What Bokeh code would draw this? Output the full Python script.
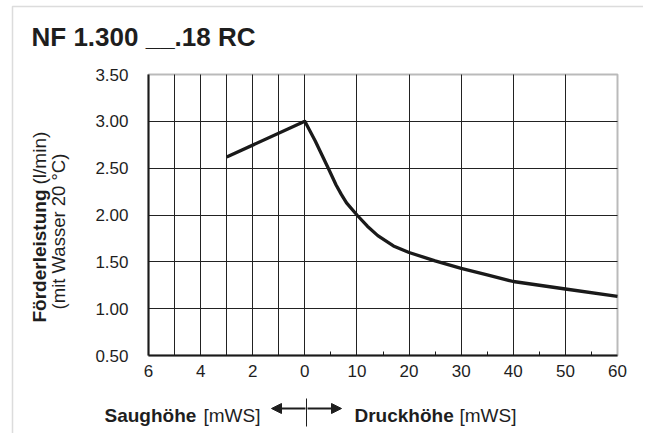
from bokeh.plotting import figure
from bokeh.models import (FixedTicker, Label, Arrow, NormalHead, BoxAnnotation, Range1d)
from bokeh.embed import file_html
from bokeh.resources import INLINE
import math

# ---------------- data ----------------
title_text = "NF 1.300 __.18 RC"
suction_head = [3, 0]            # Saughöhe [mWS]
suction_flow = [2.62, 3.00]      # l/min
pressure_head = [0, 2, 4.5, 6, 7, 8, 10, 12, 14, 17, 20, 25, 30, 35, 40, 50, 60]   # Druckhöhe [mWS]
pressure_flow = [3.00, 2.79, 2.50, 2.32, 2.22, 2.13, 2.00, 1.88, 1.78, 1.67, 1.60, 1.51, 1.43, 1.36, 1.29, 1.21, 1.13]
suction_ticks = [6, 4, 2, 0]
pressure_ticks = [10, 20, 30, 40, 50, 60]
y_ticks = [0.5, 1.0, 1.5, 2.0, 2.5, 3.0, 3.5]

# composite x axis: suction drawn to the left (1 mWS per unit), pressure to the right (5 mWS per unit)
def su(s):
    return -s

def pu(p):
    return p / 5.0

xs = [su(s) for s in suction_head] + [pu(p) for p in pressure_head[1:]]
ys = suction_flow + pressure_flow[1:]

W, H = 643, 433
FX0, FX1, FY0, FY1 = 148, 617, 74, 355   # chart box in canvas pixels
XMIN, XMAX, YMIN, YMAX = -6, 12, 0.5, 3.5
kx = (FX1 - FX0) / (XMAX - XMIN)
ky = (FY1 - FY0) / (YMAX - YMIN)

p = figure(width=W, height=H, output_backend="svg", toolbar_location=None, title=None,
           x_range=Range1d(XMIN - FX0 / kx, XMAX + (W - FX1) / kx),
           y_range=Range1d(YMIN - (H - FY1) / ky, YMAX + FY0 / ky),
           min_border=0, min_border_left=0, min_border_right=0,
           min_border_top=0, min_border_bottom=0)
p.background_fill_color = "white"
p.border_fill_color = "white"
p.outline_line_color = None

FONT = "Liberation Sans"
TXT = "#1e1e1e"
INK = "#1a1a1a"

# x axis (drawn along the bottom of the chart box)
xt = [su(s) for s in suction_ticks] + [pu(t) for t in pressure_ticks]
xl = [str(s) for s in suction_ticks] + [str(t) for t in pressure_ticks]
minor = [pu(t + 5) for t in [0] + pressure_ticks[:-1]]
xa = p.xaxis[0]
xa.fixed_location = YMIN
xa.bounds = (XMIN, XMAX)
xa.ticker = FixedTicker(ticks=xt, minor_ticks=minor)
xa.major_label_overrides = {t: l for t, l in zip(xt, xl)}
xa.major_tick_in = 0
xa.major_tick_out = 0
xa.minor_tick_in = 4
xa.minor_tick_out = 0
xa.minor_tick_line_color = INK
xa.axis_line_width = 2
xa.axis_line_color = INK
xa.major_label_standoff = 9
xa.major_label_text_font = FONT
xa.major_label_text_font_size = "17px"
xa.major_label_text_color = TXT

# y axis
ya = p.yaxis[0]
ya.fixed_location = XMIN
ya.bounds = (YMIN, YMAX)
ya.ticker = FixedTicker(ticks=y_ticks)
ya.major_label_overrides = {t: "%.2f" % t for t in y_ticks}
ya.major_tick_in = 0
ya.major_tick_out = 0
ya.minor_tick_line_color = None
ya.axis_line_width = 2
ya.axis_line_color = INK
ya.major_label_standoff = 20
ya.major_label_text_font = FONT
ya.major_label_text_font_size = "17px"
ya.major_label_text_color = TXT

# grid
grid_x = [su(s) for s in range(5, 0, -1)] + [pu(t) for t in [0] + pressure_ticks[:-1]]
p.xgrid.ticker = FixedTicker(ticks=grid_x)
p.ygrid.ticker = FixedTicker(ticks=y_ticks[1:-1])
p.xgrid.bounds = (XMIN, XMAX)
p.xgrid.cross_bounds = (YMIN, YMAX)
p.ygrid.bounds = (YMIN, YMAX)
p.ygrid.cross_bounds = (XMIN, XMAX)
for g in (p.xgrid, p.ygrid):
    g.grid_line_color = "#222222"
    g.grid_line_width = 1

# chart box outline
p.add_layout(BoxAnnotation(left=XMIN, right=XMAX, bottom=YMIN, top=YMAX,
                           fill_alpha=0, line_color=INK, line_width=2, level="overlay"))

# curve
p.line(xs, ys, line_color=INK, line_width=3.3, line_join="round", line_cap="butt")

C = dict(x_units="canvas", y_units="canvas")

# page border (left & top)
p.add_layout(BoxAnnotation(left=12, top=6, right=2000, bottom=2000,
                           left_units="canvas", right_units="canvas",
                           top_units="canvas", bottom_units="canvas",
                           fill_alpha=0, line_color="#8a8a8a", line_width=1.5))

# title
p.add_layout(Label(x=31, y=36, text=title_text, text_font=FONT, text_font_size="26px",
                   text_font_style="bold", text_color=TXT, text_baseline="alphabetic", **C))

# y-axis title (rotated)
p.add_layout(Label(x=39, y=322, text="Förderleistung", angle=math.pi / 2,
                   text_font=FONT, text_font_size="19px", text_font_style="bold",
                   text_color=TXT, text_align="left", text_baseline="middle", **C))
p.add_layout(Label(x=39, y=184, text="(l/min)", angle=math.pi / 2,
                   text_font=FONT, text_font_size="19px",
                   text_color=TXT, text_align="left", text_baseline="middle", **C))
p.add_layout(Label(x=58, y=231, text="(mit Wasser 20 °C)", angle=math.pi / 2,
                   text_font=FONT, text_font_size="18.5px",
                   text_color=TXT, text_align="center", text_baseline="middle", **C))

# bottom caption
BY = 415
p.add_layout(Label(x=104, y=BY, text="Saughöhe", text_font=FONT, text_font_size="19px",
                   text_font_style="bold", text_color=TXT, text_baseline="alphabetic", **C))
p.add_layout(Label(x=203, y=BY, text="[mWS]", text_font=FONT, text_font_size="19px",
                   text_color=TXT, text_baseline="alphabetic", **C))
p.add_layout(Label(x=354, y=BY, text="Druckhöhe", text_font=FONT, text_font_size="19px",
                   text_font_style="bold", text_color=TXT, text_baseline="alphabetic", **C))
p.add_layout(Label(x=459, y=BY, text="[mWS]", text_font=FONT, text_font_size="19px",
                   text_color=TXT, text_baseline="alphabetic", **C))
AY = 408
A = dict(start_units="canvas", end_units="canvas")
p.add_layout(Arrow(x_start=305, y_start=AY, x_end=271, y_end=AY,
                   line_width=1.8, line_color=TXT,
                   end=NormalHead(size=10, fill_color=TXT, line_color=TXT, line_width=1), **A))
p.add_layout(Arrow(x_start=307, y_start=AY, x_end=341, y_end=AY,
                   line_width=1.8, line_color=TXT,
                   end=NormalHead(size=10, fill_color=TXT, line_color=TXT, line_width=1), **A))
p.add_layout(Arrow(x_start=306, y_start=398, x_end=306, y_end=426,
                   line_width=1, line_color=TXT, end=None, **A))

open("out.html", "w").write(file_html(p, INLINE))
